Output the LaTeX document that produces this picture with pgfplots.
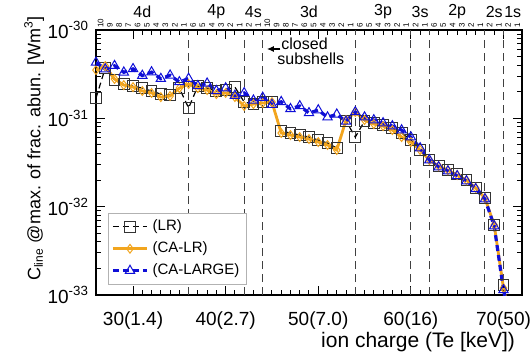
\documentclass[border=0pt]{standalone}
\usepackage{pgfplots}
\usepackage{pgfplotstable}
\pgfplotsset{compat=1.18}
\usepackage{fontspec}
\setmainfont{Liberation Sans}
\usetikzlibrary{arrows.meta}
\definecolor{myorange}{RGB}{242,165,30}
\definecolor{myblue}{RGB}{15,15,215}

\pgfplotstableread{
q lr calr calarge
26 1.70e-31 3.52e-31 4.29e-31
27 3.71e-31 3.91e-31 3.61e-31
28 2.72e-31 2.79e-31 3.94e-31
29 2.45e-31 2.38e-31 3.32e-31
30 2.32e-31 2.26e-31 3.63e-31
31 2.20e-31 2.04e-31 3.05e-31
32 2.04e-31 1.94e-31 3.34e-31
33 1.88e-31 1.74e-31 2.81e-31
34 1.84e-31 1.79e-31 3.07e-31
35 2.20e-31 2.20e-31 2.58e-31
36 1.31e-31 2.45e-31 2.82e-31
37 2.32e-31 2.20e-31 2.33e-31
38 2.20e-31 2.09e-31 2.49e-31
39 2.04e-31 1.88e-31 2.05e-31
40 2.09e-31 1.94e-31 2.20e-31
41 2.26e-31 1.74e-31 1.81e-31
42 1.53e-31 1.38e-31 1.94e-31
43 1.45e-31 1.45e-31 1.60e-31
44 1.53e-31 1.49e-31 1.72e-31
45 1.53e-31 1.53e-31 1.43e-31
46 7.18e-32 6.82e-32 1.54e-31
47 6.82e-32 6.47e-32 1.28e-31
48 6.47e-32 6.14e-32 1.38e-31
49 6.14e-32 5.83e-32 1.15e-31
50 5.68e-32 5.39e-32 1.24e-31
51 5.25e-32 4.99e-32 1.03e-31
52 4.61e-32 4.38e-32 1.11e-31
53 9.32e-32 9.57e-32 9.22e-32
54 6.14e-32 1.18e-31 1.18e-31
55 9.32e-32 9.57e-32 1.03e-31
56 8.85e-32 8.62e-32 9.57e-32
57 8.40e-32 8.18e-32 8.85e-32
58 7.76e-32 7.36e-32 8.18e-32
59 6.82e-32 6.14e-32 7.36e-32
60 5.68e-32 5.39e-32 6.14e-32
61 4.38e-32 4.38e-32 4.61e-32
62 3.37e-32 3.37e-32 3.37e-32
63 2.88e-32 2.88e-32 2.81e-32
64 2.59e-32 2.59e-32 2.53e-32
65 2.34e-32 2.28e-32 2.23e-32
66 2.00e-32 2.00e-32 1.95e-32
67 1.63e-32 1.63e-32 1.59e-32
68 1.25e-32 1.25e-32 1.22e-32
69 6.19e-33 6.19e-33 6.03e-33
70 1.29e-33 1.20e-33 1.14e-33
}\datamain

\pgfplotstableread{
q lr calr calarge
70 1.29e-33 1.20e-33 1.14e-33
71 4.0e-34 4.0e-34 3.5e-34
}\datatail

\begin{document}
\begin{tikzpicture}
\begin{axis}[
  at={(0,0)}, anchor=south west,
  scale only axis, width=213pt, height=132.5pt,
  xmin=26, xmax=72, ymin=1e-33, ymax=1e-30, ymode=log,
  xtick={30,40,50,60,70},
  xticklabels={30(1.4),40(2.7),50(7.0),60(16),70(50)},
  minor x tick num=9,
  ytick={1e-33,1e-32,1e-31,1e-30},
  yticklabels={10\textsuperscript{-33},10\textsuperscript{-32},10\textsuperscript{-31},10\textsuperscript{-30}},
  tick label style={font=\fontsize{9.5}{11}\selectfont},
  xticklabel style={yshift=-5pt},
  tick align=inside,
  major tick length=4.5pt, minor tick length=2.3pt,
  axis line style={line width=0.6pt},
  every tick/.style={black, line width=0.5pt},
  xlabel={ion charge (Te [keV])},
  xlabel style={font=\fontsize{10.5}{12}\selectfont, at={(axis description cs:1,0)}, anchor=east, yshift=-23.5pt},
  ylabel={C\textsubscript{line} @max. of frac. abun. [Wm\textsuperscript{3}]},
  ylabel style={font=\fontsize{9}{11}\selectfont, at={(axis description cs:-0.145,0.553)}, anchor=center},
  legend style={at={(axis description cs:0.028,0.038)}, anchor=south west, draw=gray!60, line width=0.4pt,
     font=\fontsize{7.5}{9}\selectfont, row sep=0pt, inner sep=1.5pt},
  legend cell align=left,
]
% closed-subshell markers
\foreach \xv in {36,42,44,54,60,62,68,70} {
  \edef\tmp{\noexpand\draw[black!75, line width=0.5pt, dash pattern=on 4pt off 2.5pt] (axis cs:\xv,1e-33) -- (axis cs:\xv,1e-30);}
  \tmp
}

\addplot[black, line width=0.6pt, dash pattern=on 3pt off 2pt, mark=square, mark size=2.7pt, mark options={solid, line width=0.5pt, draw=black!80}]
  table[x=q, y=lr] {\datamain};
\addlegendentry{(LR)}
\addplot[myorange, line width=1.4pt, mark=diamond, mark size=2.2pt, mark options={solid, line width=0.5pt}]
  table[x=q, y=calr] {\datamain};
\addlegendentry{(CA-LR)}
\addplot[myblue, line width=1.6pt, dash pattern=on 3pt off 2pt, mark=triangle, mark size=2.7pt, mark options={solid, line width=0.5pt}]
  table[x=q, y=calarge] {\datamain};
\addlegendentry{(CA-LARGE)}

\addplot[black, line width=0.6pt, dash pattern=on 3pt off 2pt, forget plot] table[x=q, y=lr] {\datatail};
\addplot[myorange, line width=1.4pt, forget plot] table[x=q, y=calr] {\datatail};
\addplot[myblue, line width=1.6pt, dash pattern=on 3pt off 2pt, forget plot] table[x=q, y=calarge] {\datatail};

\node[anchor=west, font=\fontsize{8}{9}\selectfont, inner sep=0pt] at (axis cs:45.98,6.9e-31) {closed};
\node[anchor=west, font=\fontsize{8}{9}\selectfont, inner sep=0pt] at (axis cs:45.55,4.7e-31) {subshells};
\draw[-{Latex[length=3.5pt,width=3pt]}, line width=0.6pt] (axis cs:45.9,6.1e-31) -- (axis cs:44.45,6.1e-31);
\end{axis}

% top subshell labels
\foreach \n [count=\i from 0] in {10,9,8,7,6,5,4,3,2,1,6,5,4,3,2,1,2,1,10,9,8,7,6,5,4,3,2,1,6,5,4,3,2,1,2,1,6,5,4,3,2,1,2,1,2,1} {
  \node[rotate=90, anchor=west, font=\fontsize{4}{4}\selectfont, inner sep=0pt] at ({(\i+0.5)*4.63043pt},133.5pt) {\n};
}
\foreach \c/\t in {31/4d,39/4p,43/4s,49/3d,57/3p,61/3s,65/2p,69/2s,71/1s} {
  \node[font=\fontsize{8}{9}\selectfont, inner sep=0pt] at ({(\c-26)*4.63043pt},141.5pt) {\t};
}

\pgfresetboundingbox
\path[use as bounding box] (-48pt,-29.5pt) rectangle (217.5pt,147.5pt);
\end{tikzpicture}
\end{document}
